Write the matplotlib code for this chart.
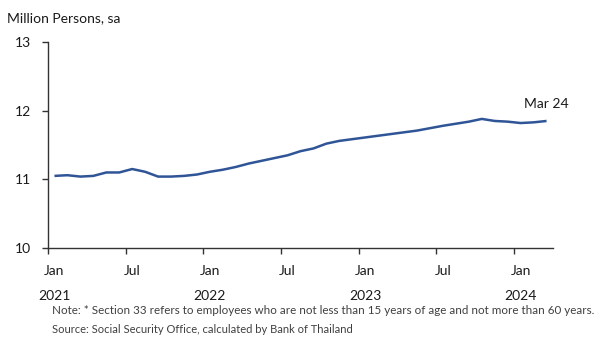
import numpy as np
import matplotlib.pyplot as plt

plt.rcParams['font.family'] = ['Lato', 'DejaVu Sans']

# monthly, Jan 2021 .. Mar 2024, million persons (seasonally adjusted)
values = [11.05, 11.06, 11.04, 11.05, 11.10, 11.10, 11.15, 11.11, 11.04, 11.04, 11.05, 11.07,
          11.11, 11.14, 11.18, 11.23, 11.27, 11.31, 11.35, 11.41, 11.45, 11.52, 11.56, 11.585,
          11.61, 11.635, 11.66, 11.685, 11.71, 11.745, 11.78, 11.81, 11.84, 11.88, 11.85, 11.84,
          11.82, 11.83, 11.85]
month_labels = ['Jan', 'Jul'] * 3 + ['Jan']
year_labels = ['2021', '2022', '2023', '2024']
y_ticks = [10, 11, 12, 13]
last_label = 'Mar 24'

line_color = '#2f5597'
text_color = '#1a1a1a'

x = np.arange(len(values))

fig = plt.figure(figsize=(6, 3.38), dpi=100)
ax = fig.add_axes([0.08, 0.2663, 0.8417, 0.6094])
ax.plot(x, values, color=line_color, lw=1.8, solid_capstyle='butt')

ax.set_xlim(-0.5, len(values) - 0.5)
ax.set_ylim(10, 13)
ax.set_yticks(y_ticks)
ax.tick_params(axis='y', length=4, width=1, colors='#333333', labelcolor=text_color,
               labelsize=10, pad=8)

# tick marks at category edges, labels at category centres
ax.set_xticks(np.arange(-0.5, len(values), 6))
ax.set_xticklabels([])
ax.tick_params(axis='x', which='major', length=4, width=1, colors='#333333')
ax.set_xticks(np.arange(0, len(values), 6), minor=True)
ax.set_xticklabels(month_labels, minor=True)
ax.tick_params(axis='x', which='minor', length=0, labelsize=10, pad=12, labelcolor=text_color)

trans = ax.get_xaxis_transform()
for i, yr in enumerate(year_labels):
    ax.text(i * 12, -0.235, yr, transform=trans, ha='center', va='center',
            fontsize=10, color=text_color)

for side in ['top', 'right']:
    ax.spines[side].set_visible(False)
for side in ['left', 'bottom']:
    ax.spines[side].set_color('#333333')
    ax.spines[side].set_linewidth(1)

ax.annotate(last_label, xy=(x[-1], values[-1]), xytext=(0, 12), textcoords='offset points',
            ha='center', va='center', fontsize=10, color=text_color)

fig.text(0.012, 0.945, 'Million Persons, sa', ha='left', va='center', fontsize=10, color=text_color)
fig.text(0.087, 0.08, 'Note: * Section 33 refers to employees who are not less than 15 years of age '
         'and not more than 60 years.', ha='left', va='center', fontsize=8.4, color='#404040')
fig.text(0.087, 0.024, 'Source: Social Security Office, calculated by Bank of Thailand',
         ha='left', va='center', fontsize=8, color='#404040')

fig.savefig('out.png', dpi=100)
